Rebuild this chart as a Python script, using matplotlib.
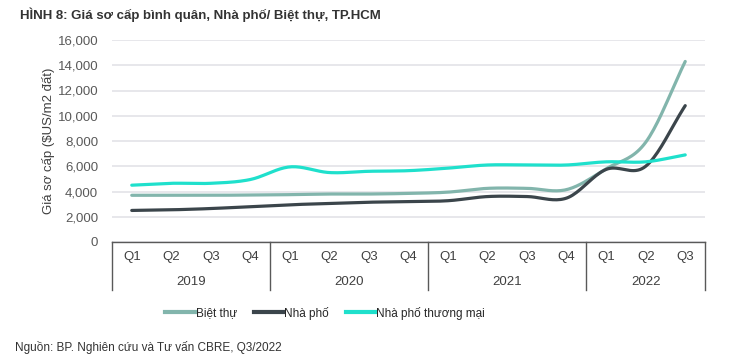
import numpy as np
import matplotlib
matplotlib.use("Agg")
import matplotlib.pyplot as plt
from matplotlib.lines import Line2D

plt.rcParams['font.family'] = ['Liberation Sans', 'DejaVu Sans']

quarters = ["Q1", "Q2", "Q3", "Q4"] * 3 + ["Q1", "Q2", "Q3"]
years = ["2019", "2020", "2021", "2022"]
year_sizes = [4, 4, 4, 3]

biet_thu = [3700, 3700, 3700, 3720, 3750, 3800, 3800, 3850, 3950, 4250, 4250, 4150, 5800, 7900, 14300]
nha_pho = [2500, 2550, 2650, 2800, 2950, 3050, 3150, 3200, 3270, 3600, 3600, 3480, 5750, 6000, 10800]
nha_pho_tm = [4500, 4650, 4650, 4950, 5950, 5500, 5600, 5650, 5850, 6100, 6100, 6100, 6350, 6350, 6900]

series_names = ["Biệt thự", "Nhà phố", "Nhà phố thương mại"]
series_vals = [biet_thu, nha_pho, nha_pho_tm]
colors = ["#82b5ac", "#3b454b", "#1fe0cc"]


def smooth(x, y, n=20):
    x = np.asarray(x, float)
    y = np.asarray(y, float)
    px = np.concatenate([[2 * x[0] - x[1]], x, [2 * x[-1] - x[-2]]])
    py = np.concatenate([[2 * y[0] - y[1]], y, [2 * y[-1] - y[-2]]])
    xs, ys = [], []
    for i in range(1, len(px) - 2):
        t = np.linspace(0, 1, n, endpoint=False)
        for p, out in ((px, xs), (py, ys)):
            p0, p1, p2, p3 = p[i - 1], p[i], p[i + 1], p[i + 2]
            v = 0.5 * ((2 * p1) + (-p0 + p2) * t + (2 * p0 - 5 * p1 + 4 * p2 - p3) * t ** 2
                       + (-p0 + 3 * p1 - 3 * p2 + p3) * t ** 3)
            out.extend(v)
    xs.append(x[-1])
    ys.append(y[-1])
    return np.array(xs), np.array(ys)


W, H = 729, 362
fig = plt.figure(figsize=(W / 100, H / 100), dpi=100)
ax = fig.add_axes([112 / W, 1 - 242 / H, (705 - 112) / W, (242 - 40) / H])

x = np.arange(len(quarters))
for name, vals, c in zip(series_names, series_vals, colors):
    sx, sy = smooth(x, vals)
    ax.plot(sx, sy, color=c, lw=2.3, solid_capstyle='round', label=name, zorder=3)

ax.set_xlim(-0.5, len(quarters) - 0.5)
ax.set_ylim(0, 16000)
ax.set_yticks(np.arange(0, 16001, 2000))
ax.set_yticklabels([f"{v:,}" for v in range(0, 16001, 2000)])
ax.yaxis.grid(True, color="#e3e3e8", lw=1.2)
ax.set_axisbelow(True)
for s in ["top", "right", "left", "bottom"]:
    ax.spines[s].set_visible(False)
ax.tick_params(axis='y', length=0, pad=10, labelsize=9.5, labelcolor="#595959")
ax.set_xticks([])
ax.set_ylabel("Giá sơ cấp ($US/m2 đất)", fontsize=9.5, color="#404040", labelpad=2)

# category axis box
dy = 48 / (242 - 40)
trans = ax.get_xaxis_transform()
ax.plot([-0.5, len(quarters) - 0.5], [0, 0], transform=trans, color="#595959", lw=1, clip_on=False)
bounds = np.concatenate([[-0.5], np.cumsum(year_sizes) - 0.5])
for b in bounds:
    ax.plot([b, b], [0, -dy], transform=trans, color="#595959", lw=1, clip_on=False)
for i, q in enumerate(quarters):
    ax.text(i, -15 / 202, q, transform=trans, ha='center', va='center', fontsize=9.5, color="#404040")
for j, yr in enumerate(years):
    cx = (bounds[j] + bounds[j + 1]) / 2
    ax.text(cx, -40 / 202, yr, transform=trans, ha='center', va='center', fontsize=9.5, color="#404040")

fig.text(20 / W, 1 - 15 / H, "HÌNH 8: Giá sơ cấp bình quân, Nhà phố/ Biệt thự, TP.HCM",
         fontsize=9.5, fontweight='bold', color="#333333", ha='left', va='center')

handles = [Line2D([0], [0], color=c, lw=3) for c in colors]
fig.legend(handles, series_names, loc='center', bbox_to_anchor=(325 / W, 1 - 313 / H), ncol=3,
           frameon=False, fontsize=8.5, handlelength=2.5, handletextpad=0.1, columnspacing=1.4,
           labelcolor="#262626")

fig.text(15 / W, 1 - 348 / H, "Nguồn: BP. Nghiên cứu và Tư vấn CBRE, Q3/2022",
         fontsize=8.5, color="#333333", ha='left', va='center')

fig.savefig("out.png", dpi=100)
